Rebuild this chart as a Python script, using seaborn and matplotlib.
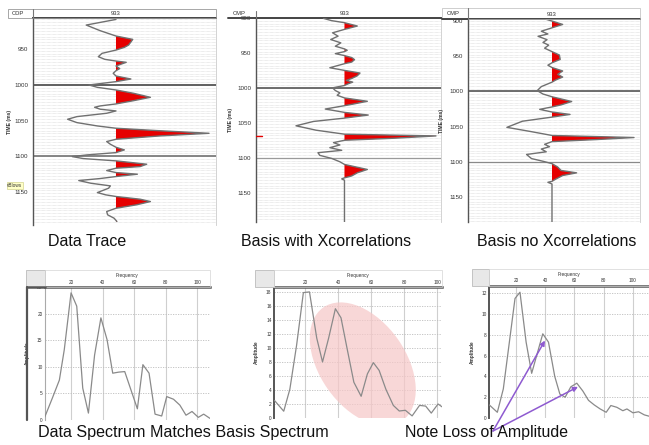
import numpy as np
import seaborn as sns
import matplotlib.pyplot as plt
from matplotlib.lines import Line2D
from matplotlib.patches import Rectangle, Ellipse
from matplotlib.transforms import ScaledTranslation

sns.set_style("white")
plt.rcParams['font.family'] = ['Liberation Sans', 'DejaVu Sans']

W, H = 649, 445

# ---- top row: single traces (time in ms, amplitude normalised to the biggest peak)
trace_data_t = np.array([908, 915.9, 923.8, 931.3, 936, 939.7, 944, 947.2, 951, 955.6, 960.3, 964,
                         966.4, 968.2, 971, 973.4, 975.2, 977, 980, 983.6, 987.4, 991.6, 995.3,
                         1000, 1003.3, 1007, 1011.7, 1017.3, 1022, 1026.6, 1029.4, 1031.3, 1034,
                         1036.4, 1039.7, 1044.4, 1048.1, 1052.8, 1057.5, 1060.7, 1064, 1067.8,
                         1071.5, 1076.2, 1079.4, 1083.2, 1087.4, 1091.1, 1094.9, 1098.1, 1100.5,
                         1103.3, 1106.5, 1111.2, 1114.5, 1116.8, 1120.1, 1122.9, 1125.2, 1128.5,
                         1131.3, 1134.1, 1137.9, 1141.6, 1144.9, 1151, 1154.2, 1156.5, 1160.3,
                         1163.6, 1168.2, 1173, 1177.6, 1182.2, 1187, 1191.6])
trace_data_a = np.array([0.0, -0.32, -0.17, 0.0, 0.18, 0.16, 0.135, 0.09, 0.0, -0.15, -0.19, -0.12,
                         0.0, 0.11, 0.05, 0.0, 0.02, 0.04, 0.0, -0.03, 0.0, 0.16, 0.0,
                         -0.29, -0.2, 0.0, 0.19, 0.37, 0.19, 0.0, -0.17, -0.23, -0.17,
                         0.0, -0.1, -0.42, -0.52, -0.42, -0.2, 0.0, 0.44, 1.0,
                         0.47, 0.0, -0.1, -0.06, 0.0, 0.09, 0.0, -0.31, -0.47,
                         -0.35, 0.0, 0.33, 0.26, 0.0, -0.1, 0.0, 0.23, 0.0,
                         -0.17, -0.4, -0.27, -0.06, -0.08, -0.2, -0.11, 0.0, 0.26,
                         0.37, 0.22, 0.0, -0.1, -0.09, -0.02, 0.01])

basis_x_t = np.array([900.5, 903.8, 906.7, 911.5, 916.3, 921.2, 926, 930.8, 935.6, 940.4, 944.2,
                      946.2, 948.1, 951, 953.8, 956.7, 959.6, 963, 965.4, 971.2, 975, 978.8,
                      982.7, 986.5, 989.4, 991.8, 994.2, 996.6, 1000, 1003.8, 1007.2, 1010.6,
                      1014.4, 1019.2, 1023.1, 1025.5, 1030.3, 1035.1, 1038.9, 1043.3, 1048.1,
                      1054.3, 1060.6, 1066.3, 1068.8, 1072.1, 1075, 1078.4, 1081.7, 1085.6,
                      1089.4, 1092.8, 1096.6, 1101, 1105.8, 1109.6, 1116.8, 1121.6, 1126,
                      1128.8, 1130.3, 1132.2, 1193.8])
basis_x_a = np.array([-0.23, -0.14, 0.0, 0.14, 0.0, -0.13, -0.07, -0.15, -0.04, -0.1, 0.0,
                      0.03, 0.0, -0.1, 0.0, 0.08, 0.11, 0.08, 0.0, -0.16, 0.0, 0.17,
                      0.14, 0.08, 0.02, 0.09, 0.04, 0.0, -0.13, -0.1, -0.05, -0.08,
                      0.0, 0.25, 0.1, 0.0, -0.21, 0.0, 0.26, 0.0, -0.34,
                      -0.53, -0.31, 0.0, 1.0, 0.54, 0.0, -0.12, -0.05, -0.16,
                      -0.03, -0.29, -0.27, -0.14, -0.05, 0.0, 0.25, 0.14, 0.08,
                      0.0, -0.03, 0.0, 0.0])

basis_nox_t = np.array([896, 898.1, 900.5, 905.3, 910.1, 914.9, 918.8, 922.1, 926.9, 930.8, 934.6,
                        938.9, 943.8, 948.6, 954.8, 959.6, 963, 966.3, 971.2, 976, 979.8,
                        983.7, 987, 993.3, 999, 1003.8, 1007.7, 1014.4, 1019.2, 1022.1,
                        1025.5, 1029.3, 1032.7, 1036.5, 1042.3, 1051, 1056.7, 1062.5, 1065.4,
                        1068.3, 1071.2, 1075, 1078.4, 1081.7, 1085.6, 1089.4, 1095.2, 1099,
                        1102.4, 1107.2, 1112, 1115.4, 1119.2, 1124, 1127.4, 1128.8, 1131.2,
                        1189])
basis_nox_a = np.array([-0.05, -0.07, 0.0, 0.13, 0.0, -0.13, -0.05, -0.17, -0.06, -0.11, -0.04,
                        -0.09, 0.0, 0.09, 0.1, 0.0, -0.05, 0.0, 0.13, 0.07, 0.13,
                        0.05, 0.0, -0.13, -0.18, -0.11, 0.0, 0.24, 0.11, 0.0,
                        -0.15, 0.0, 0.22, 0.0, -0.36, -0.55, -0.27, 0.0, 1.0,
                        0.54, 0.0, -0.09, -0.03, -0.13, -0.07, -0.31, -0.25, -0.11,
                        0.0, 0.07, 0.11, 0.3, 0.13, 0.05, 0.0, -0.05, 0.0,
                        0.0])

# ---- bottom row: amplitude spectra
spec_data_f = [3.4, 8.0, 12.6, 15.7, 20, 23.6, 27.4, 31, 34.9, 38.9, 42.8, 46.4, 50.2, 54, 62,
               65.5, 69.4, 73.2, 77.4, 80.6, 84.9, 88.9, 92.8, 96.6, 100.6, 104, 108]
spec_data_a = [0.6, 4.0, 7.5, 13.2, 23.9, 21.4, 6.0, 1.3, 12.2, 19.2, 15.1, 8.8, 9.0, 9.1, 2.1,
               10.4, 8.8, 1.1, 0.75, 4.4, 3.9, 2.8, 0.9, 1.6, 0.5, 1.1, 0.3]

spec_basis_f = [1.5, 7.1, 10.8, 14.9, 19, 22.7, 27.1, 30.6, 34.3, 38.4, 41.8, 45.5, 49.6, 54,
                57.8, 61.4, 64.9, 69, 73.5, 77.1, 80.8, 84.9, 89.4, 93.1, 96.5, 100.6, 103]
spec_basis_a = [2.5, 0.97, 4.1, 10.4, 17.9, 18.0, 11.4, 8.0, 11.4, 15.6, 14.3, 9.9, 5.1, 3.1,
                6.3, 7.9, 6.8, 4.1, 1.8, 1.0, 1.1, 0.3, 1.8, 1.7, 0.7, 2.0, 1.6]

spec_nox_f = [1.7, 7.2, 11.3, 19.3, 22.7, 26.9, 30.7, 38.3, 42.2, 46.5, 50.0, 53.6, 57.5, 61.6,
              65.7, 69.6, 73.5, 77.6, 81.7, 84.9, 89, 93.1, 95.9, 100, 103.9, 107.8, 111.4]
spec_nox_a = [1.26, 0.55, 2.8, 11.5, 12.1, 7.3, 4.3, 8.1, 7.3, 4.0, 2.3, 2.0, 3.0, 3.35,
              2.6, 1.7, 1.26, 0.87, 0.55, 1.2, 1.03, 0.7, 0.87, 0.5, 0.6, 0.3, 0.16]

freq_ticks = [20, 40, 60, 80, 100]

fig = plt.figure(figsize=(W / 100, H / 100), dpi=100)


def px_rect(x0, y0, x1, y1):
    return [x0 / W, 1 - y1 / H, (x1 - x0) / W, (y1 - y0) / H]


def fig_line(xs, ys, **kw):
    fig.add_artist(Line2D([x / W for x in xs], [1 - y / H for y in ys],
                          transform=fig.transFigure, **kw))


def fig_box(x0, y0, x1, y1, **kw):
    fig.add_artist(Rectangle((x0 / W, 1 - y1 / H), (x1 - x0) / W, (y1 - y0) / H,
                             transform=fig.transFigure, **kw))


def trace_panel(box, t, a, tlim, alim, ticks, hard_lines, label_x):
    ax = fig.add_axes(px_rect(*box))
    ax.set_xlim(alim)
    ax.set_ylim(tlim[1], tlim[0])
    for g in np.arange(tlim[0] - tlim[0] % 4, tlim[1], 4):
        ax.axhline(g, color='#c6c6c6', lw=0.4, ls=(0, (1, 1.2)), zorder=0)
    for tt, c, lw in hard_lines:
        ax.axhline(tt, color=c, lw=lw, zorder=1)
    ax.fill_betweenx(t, 0, a, where=a >= 0, interpolate=True, color='#e60000', lw=0, zorder=2)
    sns.lineplot(x=a, y=t, sort=False, estimator=None, color='#707070', lw=1.0, ax=ax, zorder=3)
    ax.set_xticks([])
    ax.set_yticks(ticks)
    ax.tick_params(axis='y', length=0, labelsize=4.5, pad=3.5, labelcolor='#333333')
    ax.set_xlabel('')
    ax.set_ylabel('TIME (ms)', fontsize=3.6, fontweight='bold', color='#333333')
    ax.yaxis.set_label_coords(label_x, 0.5)
    ax.spines['left'].set(color='#555555', lw=1.0)
    ax.spines['top'].set(color='#444444', lw=1.4)
    ax.spines['right'].set(color='#cccccc', lw=0.6)
    ax.spines['bottom'].set_visible(False)
    ax.text(0, 1.012, '933', transform=ax.get_xaxis_transform(), ha='center', va='bottom',
            fontsize=4.2, color='#333333')
    return ax


# Data trace
trace_panel((33, 18, 216, 225), trace_data_t, trace_data_a, (906, 1196.5), (-0.892, 1.075),
            [950, 1000, 1050, 1100, 1150],
            [(1000, '#555555', 1.3), (1100, '#666666', 1.1)], -0.115)
fig_box(8, 9, 216, 18, fill=False, ec='#999999', lw=0.6)
fig_line([33, 33], [9, 18], color='#777777', lw=0.8)
fig.text(12 / W, 1 - 13.5 / H, 'CDP', fontsize=4.2, va='center', color='#333333')
fig.text(15 / W, 1 - 185.5 / H, 'vBlows', fontsize=3.4, va='center', ha='center', color='#333333',
         bbox=dict(fc='#ffffc8', ec='#c8c878', lw=0.4, pad=0.6))

# Basis with cross-correlations
ax2 = trace_panel((256, 18, 441, 222), basis_x_t, basis_x_a, (900.4, 1192), (-0.967, 1.055),
                  [900, 950, 1000, 1050, 1100, 1150],
                  [(1000, '#555555', 1.2), (1100, '#9a9a9a', 0.9)], -0.124)
ax2.axhline(basis_x_t[np.argmax(basis_x_a)], xmin=0, xmax=0.03, color='#e60000', lw=1.0, zorder=4)
fig_line([228, 256], [18, 18], color='#444444', lw=1.4)
fig_line([256, 256], [11, 18], color='#777777', lw=0.8)
fig.text(233 / W, 1 - 13.5 / H, 'CMP', fontsize=4.2, va='center', color='#333333')

# Basis without cross-correlations
trace_panel((468, 19, 640, 222), basis_nox_t, basis_nox_a, (897.6, 1185), (-1.024, 1.073),
            [900, 950, 1000, 1050, 1100, 1150],
            [(1000, '#555555', 1.2), (1100, '#8a8a8a', 0.9)], -0.14)
fig_line([442, 468], [19, 19], color='#444444', lw=1.4)
fig_box(442, 8, 640, 19, fill=False, ec='#bbbbbb', lw=0.5)
fig_line([468, 468], [8, 19], color='#777777', lw=0.8)
fig.text(447 / W, 1 - 13.5 / H, 'CMP', fontsize=4.2, va='center', color='#333333')

for x, s in [(87, 'Data Trace'), (326, 'Basis with Xcorrelations'), (557, 'Basis no Xcorrelations')]:
    fig.text(x / W, 1 - 241 / H, s, fontsize=11.5, ha='center', va='center', color='#111111')


def spectrum_panel(box, f, amp, flim, alim, aticks, box_left, left_color):
    x0, y0, x1, y1 = box
    ax = fig.add_axes(px_rect(*box))
    ax.xaxis.grid(True, color='#cfcfcf', lw=0.8)
    ax.yaxis.grid(True, color='#bdbdbd', lw=0.6, ls=(0, (1.5, 1.5)))
    ax.set_axisbelow(True)
    sns.lineplot(x=f, y=amp, sort=False, estimator=None, color='#8a8a8a', lw=0.9, ax=ax, zorder=3)
    ax.set_xlim(flim)
    ax.set_ylim(alim)
    ax.set_xticks(freq_ticks)
    ax.set_yticks(aticks)
    ax.xaxis.tick_top()
    ax.xaxis.set_label_position('top')
    ax.set_xlabel('Frequency', fontsize=3.4, labelpad=1.8, color='#333333')
    ax.set_ylabel('Amplitude', fontsize=3.4, fontweight='bold', color='#333333')
    ax.yaxis.set_label_coords(-0.09, 0.5)
    ax.tick_params(length=0, labelsize=3.4, pad=1.8, labelcolor='#333333')
    ax.spines['top'].set(color='#555555', lw=1.8)
    ax.spines['left'].set(color=left_color, lw=1.4 if left_color == '#555555' else 0.8)
    ax.spines['right'].set_visible(False)
    ax.spines['bottom'].set_visible(False)
    fig_box(box_left, y0 - 17, x0, y0, fc='#e8e8e8', ec='#bbbbbb', lw=0.6)
    fig_box(x0, y0 - 17, x1, y0, fill=False, ec='#d5d5d5', lw=0.5)
    return ax


ax4 = spectrum_panel((45, 287, 210, 420), spec_data_f, spec_data_a, (3.5, 108), (0, 25),
                     [0, 5, 10, 15, 20, 25], 26, '#aaaaaa')
fig_line([27, 27], [287, 420], color='#555555', lw=1.6)
fig_line([27, 45], [287, 287], color='#555555', lw=1.8)

ax5 = spectrum_panel((274, 287, 442, 418), spec_basis_f, spec_basis_a, (1.2, 103), (0, 18.7),
                     [0, 2, 4, 6, 8, 10, 12, 14, 16, 18], 255, '#555555')
# pink highlight around the mid-frequency peaks (size in inches, centre in data units)
ax5.add_patch(Ellipse((0, 0), 1.38, 0.86, angle=-55, fc='#f6c8c8', ec='none', alpha=0.72, zorder=1.5,
                      transform=fig.dpi_scale_trans + ScaledTranslation(55.0, 7.7, ax5.transData)))

ax6 = spectrum_panel((489, 286, 649, 418), spec_nox_f, spec_nox_a, (1.5, 111), (0, 12.7),
                     [0, 2, 4, 6, 8, 10, 12], 472, '#555555')
for head in [(39.8, 7.45), (62.4, 3.0)]:
    ax6.annotate('', xy=head, xycoords='data', xytext=(493, H - 431), textcoords='figure pixels',
                 arrowprops=dict(arrowstyle='-|>', color='#8e5ad0', lw=1.1, mutation_scale=7,
                                 shrinkA=0, shrinkB=0), annotation_clip=False, zorder=5)

fig.text(38 / W, 1 - 432 / H, 'Data Spectrum Matches Basis Spectrum', fontsize=11.6,
         va='center', color='#111111')
fig.text(405 / W, 1 - 432 / H, 'Note Loss of Amplitude', fontsize=11.4, va='center', color='#111111')

fig.savefig('out.png', dpi=100, facecolor='white')
